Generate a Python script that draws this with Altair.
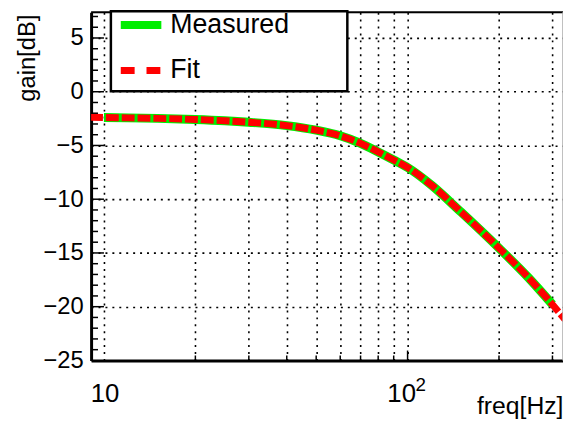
import altair as alt
import pandas as pd

# ---- data ----
meas_freq = [10, 12, 15, 20, 25, 30, 40, 50, 60, 70, 80, 90, 100, 120, 150, 200, 250, 300]
meas_gain = [-2.40, -2.43, -2.48, -2.58, -2.70, -2.84, -3.15, -3.58, -4.10, -4.80, -5.60, -6.35,
             -7.05, -8.70, -11.20, -14.55, -17.30, -19.80]
fit_freq = [9, 10, 12, 15, 20, 25, 30, 40, 50, 60, 70, 80, 90, 100, 120, 150, 200, 250, 300, 330]
fit_gain = [-2.38, -2.40, -2.43, -2.48, -2.58, -2.70, -2.84, -3.15, -3.58, -4.10, -4.80, -5.60,
            -6.35, -7.05, -8.70, -11.20, -14.55, -17.30, -19.80, -21.20]

y_major = [-20, -15, -10, -5, 0, 5]
y_minor = [v for v in range(-24, 8) if v % 5 != 0]
x_grid = [10, 20, 30, 40, 50, 60, 70, 80, 90, 100, 200, 300]
x_minor_ticks = [20, 30, 40, 50, 60, 70, 80, 90, 200, 300]
x_major_ticks = [100]
x_label_freq = [10, 100]
x_label_base = ["10", "10"]
x_label_exp = ["", "2"]
legend_names = ["Measured", "Fit"]

FONT = "Liberation Sans"
W, H = 477, 352

xs = alt.Scale(type="log", domain=[9.07, 325], nice=False)
ys = alt.Scale(domain=[-25, 7.4], nice=False, zero=False)

xaxis = alt.Axis(
    values=x_grid, labels=False,
    ticks=False, domainColor="black", domainWidth=3,
    grid=True, gridColor="black", gridDash=[2, 5], gridWidth=1.6, gridOpacity=1,
    title="freq[Hz]", titleFont=FONT, titleFontSize=25, titleFontWeight="normal", titleColor="black",
    titleAlign="right", titleBaseline="alphabetic", titleX=W, titleY=54, titleAngle=0,
)
yaxis = alt.Axis(
    values=[-25, -20, -15, -10, -5, 0, 5],
    labelExpr="replace(datum.label, '-', '–')",
    labelFont=FONT, labelFontSize=24, labelColor="black", labelPadding=8,
    ticks=False, domainColor="black", domainWidth=3,
    grid=True, gridColor="black", gridDash=[2, 5], gridWidth=1.6, gridOpacity=1,
    title="gain[dB]", titleFont=FONT, titleFontSize=24, titleFontWeight="normal", titleColor="black",
    titleAngle=270, titleAlign="right", titleBaseline="alphabetic", titleX=-57, titleY=2,
)

X = alt.X("freq:Q", scale=xs, axis=xaxis)
Y = alt.Y("gain:Q", scale=ys, axis=yaxis)

meas_df = pd.DataFrame({"freq": meas_freq, "gain": meas_gain})
fit_df = pd.DataFrame({"freq": fit_freq, "gain": fit_gain})

meas = alt.Chart(meas_df).mark_line(color="#00ee00", strokeWidth=9, clip=True,
                                    interpolate="monotone").encode(x=X, y=Y)
fit = alt.Chart(fit_df).mark_line(color="#ff0000", strokeWidth=7, strokeDash=[13, 3], clip=True,
                                  interpolate="monotone").encode(x=X, y=Y)

ymin_df = pd.DataFrame({"gain": y_minor})
ymaj_df = pd.DataFrame({"gain": y_major})
y_minor_t = alt.Chart(ymin_df).mark_rule(color="black", strokeWidth=1.5).encode(
    y=Y, x=alt.value(0), x2=alt.value(7))
y_major_t = alt.Chart(ymaj_df).mark_rule(color="black", strokeWidth=1.5).encode(
    y=Y, x=alt.value(0), x2=alt.value(13))
xmin_df = pd.DataFrame({"freq": x_minor_ticks})
xmaj_df = pd.DataFrame({"freq": x_major_ticks})
x_minor_t = alt.Chart(xmin_df).mark_rule(color="black", strokeWidth=1.5).encode(
    x=X, y=alt.value(H), y2=alt.value(H - 5))
x_major_t = alt.Chart(xmaj_df).mark_rule(color="black", strokeWidth=1.5).encode(
    x=X, y=alt.value(H), y2=alt.value(H - 10))

xl_df = pd.DataFrame({"freq": x_label_freq, "base": x_label_base, "exp": x_label_exp})
xl_first = alt.Chart(xl_df.iloc[[0]]).mark_text(
    align="center", baseline="alphabetic", font=FONT, fontSize=26, color="black", dx=1).encode(
    x=X, y=alt.value(H + 42), text="base:N")
xl_second = alt.Chart(xl_df.iloc[[1]]).mark_text(
    align="center", baseline="alphabetic", font=FONT, fontSize=26, color="black", dx=-6).encode(
    x=X, y=alt.value(H + 42), text="base:N")
xl_exp = alt.Chart(xl_df.iloc[[1]]).mark_text(
    align="left", baseline="alphabetic", font=FONT, fontSize=19, color="black", dx=8).encode(
    x=X, y=alt.value(H + 31), text="exp:N")

one = pd.DataFrame({"k": [0]})
top_line = alt.Chart(one).mark_rule(color="black", strokeWidth=2).encode(
    x=alt.value(0), x2=alt.value(W), y=alt.value(0))
right_line = alt.Chart(one).mark_rule(color="#aaaaaa", strokeWidth=1.5).encode(
    x=alt.value(W), y=alt.value(0), y2=alt.value(H))

leg_box = alt.Chart(one).mark_rect(fill="white", stroke="black", strokeWidth=2.5).encode(
    x=alt.value(20), x2=alt.value(259), y=alt.value(-1), y2=alt.value(80))
leg_g = alt.Chart(one).mark_rule(color="#00ee00", strokeWidth=8).encode(
    x=alt.value(30), x2=alt.value(71), y=alt.value(13))
leg_r = alt.Chart(one).mark_rule(color="#ff0000", strokeWidth=7, strokeDash=[14, 12]).encode(
    x=alt.value(30), x2=alt.value(71), y=alt.value(59))
leg_t1 = alt.Chart(pd.DataFrame({"t": [legend_names[0]]})).mark_text(
    align="left", baseline="middle", font=FONT, fontSize=27, color="black").encode(
    x=alt.value(80), y=alt.value(13), text="t:N")
leg_t2 = alt.Chart(pd.DataFrame({"t": [legend_names[1]]})).mark_text(
    align="left", baseline="middle", font=FONT, fontSize=27, color="black").encode(
    x=alt.value(80), y=alt.value(59), text="t:N")

chart = alt.layer(
    meas, fit, y_minor_t, y_major_t, x_minor_t, x_major_t, xl_first, xl_second, xl_exp,
    top_line, right_line, leg_box, leg_g, leg_r, leg_t1, leg_t2,
).properties(
    width=W, height=H, autosize="none",
    padding={"left": 84, "top": 2, "right": 0, "bottom": 60},
).configure_view(stroke=None).configure(background="white")

chart.save("out.html", embed_options={"renderer": "svg", "actions": False})
